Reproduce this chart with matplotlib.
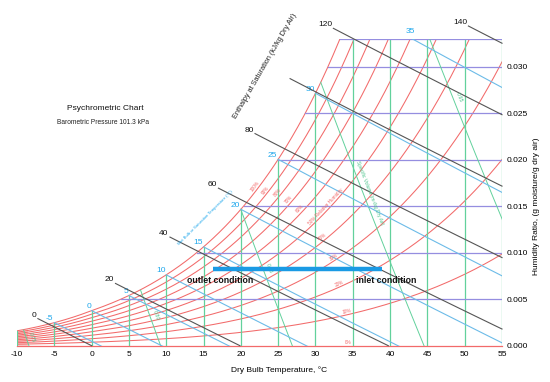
import numpy as np
import matplotlib
matplotlib.use('Agg')
import matplotlib.pyplot as plt

plt.rcParams['font.family'] = ['Liberation Sans', 'DejaVu Sans']

# --- chart data ---
P = 101.325  # kPa
dry_bulb = [-10, -5, 0, 5, 10, 15, 20, 25, 30, 35, 40, 45, 50, 55]
humidity = [0.005, 0.010, 0.015, 0.020, 0.025, 0.030]
hum_labels = ['0.000', '0.005', '0.010', '0.015', '0.020', '0.025', '0.030']
w_top = 0.033

rh_levels = [10, 20, 30, 40, 50, 60, 70, 80, 90, 100]
rh_text = ['10%', '20%', '30%', '40%', '50% Relative Humidity', '60%', '70%', '80%', '90%', '100%']
rh_text_T = [34.3, 33.4, 32.7, 31.3, 31.7, 28.3, 26.8, 25.3, 23.6, 22.3]

wet_bulb = [-5, 0, 5, 10, 15, 20, 25, 30, 35]

enthalpy = [0, 20, 40, 60, 80, 100, 120, 140]
enthalpy_from = [-7.2, 3.2, 10.5, 17.0, 21.9, 26.6, 32.4, 50.5]
enthalpy_text = ['0', '20', '40', '60', '80', '', '120', '140']

volumes = [0.75, 0.80, 0.85, 0.90, 0.95]
volume_text = ['0.75', '0.80', '0.85', 'Specific Volume (m³/kg Dry Air)', '0.95']
volume_text_w = [0.0009, 0.0033, 0.0083, 0.0164, 0.0267]

process_w = 0.0082
outlet_T, inlet_T = 16.3, 38.9

RED = '#f26a6a'
GREEN = '#62d19c'
PURPLE = '#958ee0'
BLUE = '#6cbbe8'
BLACK = '#555555'
LBLUE = '#1ea7ec'


def psat(T):
    T = np.asarray(T, dtype=float)
    water = 0.61094 * np.exp(17.625 * T / (T + 243.04))
    ice = 0.61115 * np.exp(22.452 * T / (272.55 + T))
    return np.where(T >= 0, water, ice)


def w_from_pv(pv):
    return 0.622 * pv / (P - pv)


def wsat(T):
    return w_from_pv(psat(T))


Tgrid = np.linspace(-10, 60, 3000)
wgrid_sat = wsat(Tgrid)


def tsat(w):
    return np.interp(w, wgrid_sat, Tgrid)


fig = plt.figure(figsize=(5.5, 3.82), dpi=100)
ax = fig.add_axes([17 / 550, 36.3 / 382, 485 / 550, 306.9 / 382])
ax.set_xlim(-10, 55)
ax.set_ylim(0, w_top)
for s in ax.spines.values():
    s.set_visible(False)


def angle(x0, y0, x1, y1):
    p0 = ax.transData.transform((x0, y0))
    p1 = ax.transData.transform((x1, y1))
    return np.degrees(np.arctan2(p1[1] - p0[1], p1[0] - p0[0]))


# pinkish corner where the curves bunch up
Tp = np.linspace(-10, -8.6, 30)
ax.fill_between(Tp, 0, wsat(Tp), color='#fbd0d0', lw=0, zorder=1)

# relative humidity curves
T = np.linspace(-10, 55, 1500)
for rh, txt, tt in zip(rh_levels, rh_text, rh_text_T):
    w = w_from_pv(rh / 100 * psat(T))
    m = w <= w_top * 1.02
    ax.plot(T[m], w[m], color=RED, lw=0.75, zorder=2)
    wl = w_from_pv(rh / 100 * psat(tt))
    a = angle(tt - 0.2, w_from_pv(rh / 100 * psat(tt - 0.2)),
              tt + 0.2, w_from_pv(rh / 100 * psat(tt + 0.2)))
    off = (-2.5 * np.sin(np.radians(a)), 2.5 * np.cos(np.radians(a)))
    ax.annotate(txt, (tt, wl), xytext=off, textcoords='offset points',
                rotation=a, rotation_mode='anchor', ha='center', va='center',
                fontsize=3.4, color=RED, zorder=6)
ax.plot([-10, 55], [0, 0], color=RED, lw=0.9, zorder=2, clip_on=False)
ax.annotate('0%', (34.4, 0), xytext=(0, 2.5), textcoords='offset points',
            ha='center', va='center', fontsize=3.4, color=RED)

# dry bulb lines
for t in dry_bulb:
    ax.plot([t, t], [0, min(float(wsat(t)), w_top)], color=GREEN, lw=0.9, zorder=3)

# humidity ratio lines
for w in humidity + [w_top]:
    ax.plot([tsat(w), 55], [w, w], color=PURPLE, lw=0.9, zorder=3)

# specific volume lines
wv = np.linspace(0, w_top, 800)
for v, txt, tw in zip(volumes, volume_text, volume_text_w):
    Tv = v * P / (0.287042 * (1 + 1.607858 * wv)) - 273.15
    m = (Tv >= tsat(wv) - 0.05) & (Tv <= 56)
    ax.plot(Tv[m], wv[m], color=GREEN, lw=0.7, zorder=3)
    tl = v * P / (0.287042 * (1 + 1.607858 * tw)) - 273.15
    w2 = tw + 0.001
    t2 = v * P / (0.287042 * (1 + 1.607858 * w2)) - 273.15
    a = angle(t2, w2, tl, tw)
    ax.annotate(txt, (tl, tw), xytext=(4.5, 0), textcoords='offset points',
                rotation=a, rotation_mode='anchor', ha='center', va='center',
                fontsize=3.5 if len(txt) > 5 else 3.8, color='#4cc48c', zorder=6)

# wet bulb lines
for tw in wet_bulb:
    ws = float(wsat(tw))
    Tw = np.linspace(tw, 60, 400)
    w = ((2501 - 2.326 * tw) * ws - 1.006 * (Tw - tw)) / (2501 + 1.86 * Tw - 4.186 * tw)
    m = w >= -0.0005
    ax.plot(Tw[m], w[m], color=BLUE, lw=0.8, zorder=4)
    if ws <= w_top:
        ax.annotate(str(tw), (tw, ws), xytext=(-0.5, 0.5), textcoords='offset points',
                    ha='right', va='bottom', fontsize=6, color=LBLUE)
    else:
        A = (2501 - 2.326 * tw) * ws
        t0 = (A + 1.006 * tw - w_top * (2501 - 4.186 * tw)) / (1.86 * w_top + 1.006)
        ax.annotate(str(tw), (t0, w_top), xytext=(-1, 2.5), textcoords='offset points',
                    ha='center', va='bottom', fontsize=6, color=LBLUE)

# enthalpy lines
for h, t0, txt in zip(enthalpy, enthalpy_from, enthalpy_text):
    t1 = min(h / 1.006, 55)
    Th = np.linspace(t0, t1, 100)
    w = (h - 1.006 * Th) / (2501 + 1.86 * Th)
    ax.plot(Th, w, color=BLACK, lw=0.8, zorder=4, clip_on=False)
    if txt:
        ax.annotate(txt, (Th[0], w[0]), xytext=(-1, 0), textcoords='offset points',
                    ha='right', va='bottom', fontsize=6, color='#111111',
                    annotation_clip=False)

# process line
ax.plot([outlet_T, inlet_T], [process_w, process_w], color='#1a9ae4', lw=3.2,
        solid_capstyle='butt', zorder=7)
ax.text(17.25, 0.00706, 'outlet condition', ha='center', va='center',
        fontsize=6.3, fontweight='bold', color='#111111', zorder=8)
ax.text(39.5, 0.00706, 'inlet condition', ha='center', va='center',
        fontsize=6.3, fontweight='bold', color='#111111', zorder=8)

# axis ticks
ax.set_xticks(dry_bulb)
ax.set_xticklabels([str(t) for t in dry_bulb])
ax.set_yticks([0] + humidity)
ax.set_yticklabels(hum_labels)
ax.yaxis.tick_right()
ax.tick_params(axis='x', length=0, pad=3.5, labelsize=6)
ax.tick_params(axis='y', length=0, pad=3.4, labelsize=6)

fig.text(279 / 550, 1 - 370 / 382, 'Dry Bulb Temperature, °C', ha='center',
         va='center', fontsize=6)
fig.text(537 / 550, 1 - 206 / 382, 'Humidity Ratio, (g moisture/g dry air)',
         ha='center', va='center', rotation=90, fontsize=6)
fig.text(265 / 550, 1 - 66 / 382, 'Enthalpy at Saturation (kJ/kg Dry Air)',
         ha='center', va='center', rotation=60, fontsize=5.3, color='#222222')
fig.text(205 / 550, 1 - 218 / 382, 'Wet Bulb or Saturation Temperature (°C)',
         ha='center', va='center', rotation=45, fontsize=3.1, color=LBLUE)
fig.text(105 / 550, 1 - 109 / 382, 'Psychrometric Chart', ha='center',
         va='center', fontsize=6, color='#111111')
fig.text(103 / 550, 1 - 122 / 382, 'Barometric Pressure 101.3 kPa', ha='center',
         va='center', fontsize=4.8, color='#222222')

fig.savefig('out.png', dpi=100)
